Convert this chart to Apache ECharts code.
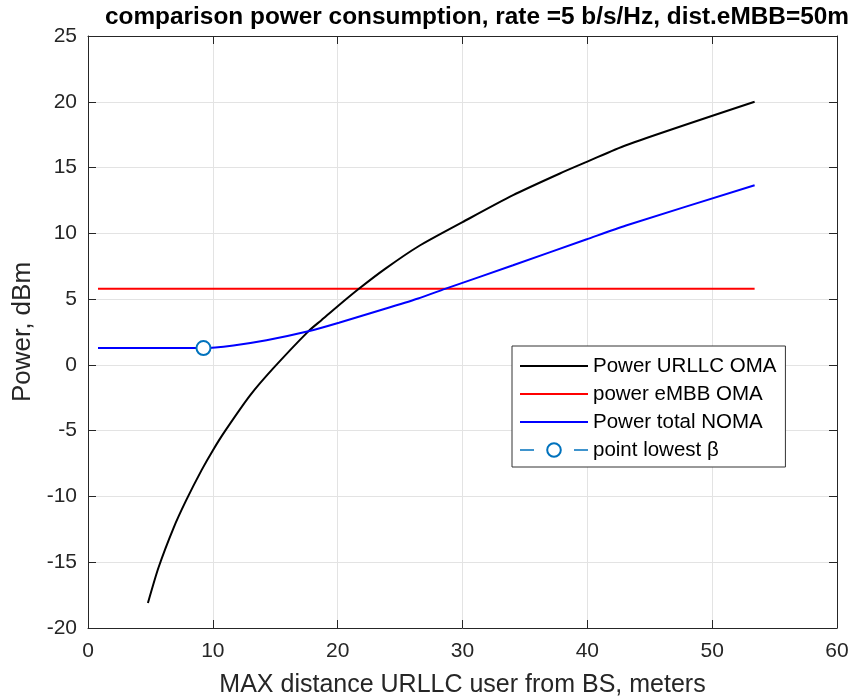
<!DOCTYPE html>
<html>
<head>
<meta charset="utf-8">
<script src="https://cdn.jsdelivr.net/npm/echarts@6/dist/echarts.min.js"></script>
<style>
  html, body { margin: 0; padding: 0; background: #fff; }
  #chart { width: 851px; height: 699px; }
</style>
</head>
<body>
<div id="chart"></div>
<script>
// Power vs. maximum URLLC user distance (values in dBm)
const seriesNames = ['Power URLLC OMA', 'power eMBB OMA', 'Power total NOMA', 'point lowest \u03b2'];

// [distance (m), power (dBm)]
const urllcOma = [
  [4.8, -18.1], [5.65, -15.4], [6.85, -12.4], [7.86, -10.3], [9.1, -8.0],
  [10.0, -6.5], [11.0, -5.0], [13.0, -2.3], [14.85, -0.25], [17.65, 2.55],
  [18.7, 3.4], [20.05, 4.5], [21.65, 5.75], [23.8, 7.3], [26.45, 9.0],
  [30.0, 10.85], [34.05, 12.9], [37.8, 14.55], [40.0, 15.45], [43.1, 16.7],
  [53.4, 20.0]
];
const embbOma = [[0.8, 5.78], [53.4, 5.78]];
const totalNoma = [
  [0.8, 1.28], [9.25, 1.28], [11.65, 1.48], [14.3, 1.87], [17.65, 2.55],
  [20.1, 3.2], [23.8, 4.27], [26.45, 5.05], [28.6, 5.78], [34.05, 7.57],
  [39.9, 9.53], [43.1, 10.6], [53.4, 13.65]
];
const lowestBeta = [[9.25, 1.28]];

const xTicks = { min: 0, max: 60, step: 10 };
const yTicks = { min: -20, max: 25, step: 5 };

const FONT = '"Liberation Sans", Arial, Helvetica, sans-serif';
const AXIS_COLOR = '#262626';
const MARKER_BLUE = '#0072bd';

const chart = echarts.init(document.getElementById('chart'), null, { renderer: 'canvas' });

function boxAxis(base, extra) {
  return Object.assign({
    type: 'value',
    gridIndex: 0,
    axisLine: { show: true, onZero: false, lineStyle: { color: AXIS_COLOR, width: 1 } },
    axisTick: { show: true, inside: true, length: 8, lineStyle: { color: AXIS_COLOR, width: 1 } },
  }, base, extra);
}

const xBase = { min: xTicks.min, max: xTicks.max, interval: xTicks.step };
const yBase = { min: yTicks.min, max: yTicks.max, interval: yTicks.step };

// plain line samples in the legend (hide the default legend dot)
const plainLegendItem = name => ({ name: name, itemStyle: { opacity: 0 } });

chart.setOption({
  animation: false,
  backgroundColor: '#ffffff',
  title: {
    text: 'comparison power consumption, rate =5 b/s/Hz, dist.eMBB=50m',
    left: 472,
    top: 0,
    textAlign: 'center',
    textStyle: { fontFamily: FONT, fontSize: 24.4, fontWeight: 'bold', color: '#000' }
  },
  grid: { left: 88, right: 14, top: 36, bottom: 71, containLabel: false, outerBoundsMode: 'none' },
  xAxis: [
    boxAxis(xBase, {
      position: 'bottom',
      name: 'MAX distance URLLC user from BS, meters',
      nameLocation: 'middle',
      nameGap: 45,
      nameTextStyle: { fontFamily: FONT, fontSize: 25, color: AXIS_COLOR },
      axisLabel: { fontFamily: FONT, fontSize: 21, color: AXIS_COLOR, margin: 13 },
      splitLine: { show: true, lineStyle: { color: '#e3e3e3', width: 1 } }
    }),
    boxAxis(xBase, {
      position: 'top',
      axisLabel: { show: false },
      splitLine: { show: false }
    })
  ],
  yAxis: [
    boxAxis(yBase, {
      position: 'left',
      name: 'Power, dBm',
      nameLocation: 'middle',
      nameGap: 51,
      nameTextStyle: { fontFamily: FONT, fontSize: 26, color: AXIS_COLOR },
      axisLabel: { fontFamily: FONT, fontSize: 21, color: AXIS_COLOR, margin: 11 },
      splitLine: { show: true, lineStyle: { color: '#e3e3e3', width: 1 } }
    }),
    boxAxis(yBase, {
      position: 'right',
      axisLabel: { show: false },
      splitLine: { show: false }
    })
  ],
  legend: {
    orient: 'vertical',
    left: 512,
    top: 346,
    padding: [9, 9, 6, 7],
    itemWidth: 68,
    itemHeight: 17,
    itemGap: 6,
    backgroundColor: '#ffffff',
    borderColor: '#333333',
    borderWidth: 1,
    borderRadius: 0,
    textStyle: { fontFamily: FONT, fontSize: 20.5, color: '#000', lineHeight: 22 },
    data: [
      plainLegendItem(seriesNames[0]),
      plainLegendItem(seriesNames[1]),
      plainLegendItem(seriesNames[2]),
      {
        name: seriesNames[3],
        itemStyle: { color: MARKER_BLUE, borderColor: MARKER_BLUE, borderWidth: 1.5, opacity: 1 },
        lineStyle: { color: MARKER_BLUE, width: 1.5, type: [14, 40], opacity: 1 }
      }
    ]
  },
  series: [
    {
      name: seriesNames[0], type: 'line', data: urllcOma,
      symbol: 'none', color: '#000000', smooth: 0.25,
      lineStyle: { color: '#000000', width: 2 }, z: 3
    },
    {
      name: seriesNames[1], type: 'line', data: embbOma,
      symbol: 'none', color: '#ff0000',
      lineStyle: { color: '#ff0000', width: 2 }, z: 2
    },
    {
      name: seriesNames[2], type: 'line', data: totalNoma,
      symbol: 'none', color: '#0000ff', smooth: 0.25,
      lineStyle: { color: '#0000ff', width: 2 }, z: 4
    },
    {
      name: seriesNames[3], type: 'line', data: lowestBeta,
      symbol: 'emptyCircle', symbolSize: 14, showSymbol: true, color: MARKER_BLUE,
      itemStyle: { color: MARKER_BLUE, borderColor: MARKER_BLUE, borderWidth: 1.5, opacity: 1 },
      lineStyle: { color: MARKER_BLUE, width: 1.5, type: [14, 40] }, z: 5
    }
  ]
});
</script>
</body>
</html>
